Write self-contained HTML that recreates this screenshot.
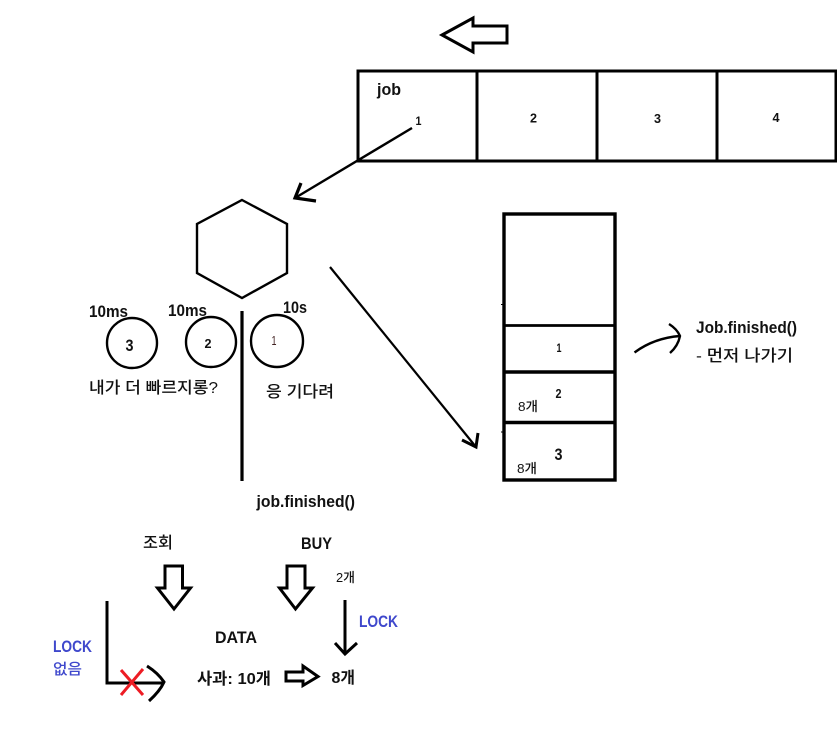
<!DOCTYPE html>
<html><head><meta charset="utf-8">
<style>
html,body{margin:0;padding:0;background:#fff}
svg{display:block}
text{font-family:"Liberation Sans","Noto Sans CJK KR",sans-serif;fill:#111}
.b{font-weight:700}
.k{font-family:"Liberation Sans","Noto Sans CJK KR",sans-serif;font-weight:500}
.l{fill:#3f48cc;font-weight:700}
</style></head><body>
<svg width="837" height="739" viewBox="0 0 837 739" xmlns="http://www.w3.org/2000/svg">
<g fill="none" stroke="#000" stroke-linejoin="miter">
<polygon points="442,35 473,18 473,26 507,26 507,43 473,43 473,52" stroke-width="3"/>
<rect x="358" y="71" width="478" height="90" stroke-width="3"/>
<path d="M477 71V161M597 71V161M717 71V161" stroke-width="3"/>
<path d="M412 128L295 198" stroke-width="2.400"/>
<path d="M301 183L295 198L316 201" stroke-width="3.200"/>
<polygon points="242,200 287,224 287,273 242,298 197,273 197,224" stroke-width="2.400"/>
<path d="M242 311V481" stroke-width="3.200"/>
<circle cx="132" cy="343" r="25" stroke-width="2.400"/>
<circle cx="211" cy="342" r="25" stroke-width="2.400"/>
<circle cx="277" cy="341" r="26" stroke-width="2.400"/>
<path d="M330 267L476 447" stroke-width="2.200"/>
<path d="M462 440L476 447L478 433" stroke-width="3"/>
<rect x="504" y="214" width="111" height="266" stroke-width="3.400"/>
<path d="M504 325.500H615" stroke-width="2.800"/>
<path d="M504 372H615M504 422.500H615" stroke-width="3.400"/>
<path d="M501 304.500H503M501 432H503" stroke-width="1"/>
<path d="M634.500 352.500Q654 338 680 336" stroke-width="2.400"/>
<path d="M669 324Q677 329 680 336Q678 346 670 353" stroke-width="2.400"/>
<polygon points="165,566 182.500,566 182.500,588 190.500,588 174,609 157.500,588 165,588" stroke-width="3"/>
<polygon points="287,566 305,566 305,588 312.500,588 295.500,609 279.500,588 287,588" stroke-width="3"/>
<path d="M345 600V654" stroke-width="3"/>
<path d="M335 643L345 654L357 643" stroke-width="3"/>
<polygon points="286,672 303,672 303,666 318,676.500 303,685.500 303,681 286,681" stroke-width="3"/>
<path d="M107 601V683H164" stroke-width="3"/>
<path d="M147 666Q158 673 164 682Q160 691 149 701" stroke-width="3"/>
<path d="M121 670L143 695M143 669L121 695" stroke="#ed1c24" stroke-width="3"/>
</g>
<text class="b" x="377" y="95" font-size="17" textLength="24" lengthAdjust="spacingAndGlyphs">job</text>
<text class="b" x="415.500" y="125" font-size="12" textLength="6" lengthAdjust="spacingAndGlyphs">1</text>
<text class="b" x="530" y="122.500" font-size="13" textLength="7" lengthAdjust="spacingAndGlyphs">2</text>
<text class="b" x="654" y="123" font-size="13" textLength="7" lengthAdjust="spacingAndGlyphs">3</text>
<text class="b" x="772.500" y="122" font-size="13" textLength="7" lengthAdjust="spacingAndGlyphs">4</text>
<text class="b" x="89" y="317" font-size="17" textLength="39" lengthAdjust="spacingAndGlyphs">10ms</text>
<text class="b" x="168" y="316" font-size="17" textLength="39" lengthAdjust="spacingAndGlyphs">10ms</text>
<text class="b" x="283" y="313" font-size="17" textLength="24" lengthAdjust="spacingAndGlyphs">10s</text>
<text class="b" x="125.500" y="351" font-size="17" textLength="8" lengthAdjust="spacingAndGlyphs">3</text>
<text class="b" x="204.500" y="348" font-size="13" textLength="7" lengthAdjust="spacingAndGlyphs">2</text>
<text x="271.500" y="345" font-size="13" textLength="5" lengthAdjust="spacingAndGlyphs" style="fill:#402020">1</text>
<text class="k" x="89" y="393" font-size="16" textLength="129" lengthAdjust="spacingAndGlyphs">내가 더 빠르지롱?</text>
<text class="k" x="266" y="397" font-size="16" textLength="68" lengthAdjust="spacingAndGlyphs">응 기다려</text>
<text class="b" x="556.500" y="352" font-size="12" textLength="5" lengthAdjust="spacingAndGlyphs">1</text>
<text class="b" x="555.500" y="398" font-size="13" textLength="6" lengthAdjust="spacingAndGlyphs">2</text>
<text class="k" x="518" y="411" font-size="13" textLength="20" lengthAdjust="spacingAndGlyphs">8개</text>
<text class="b" x="554.500" y="460" font-size="17" textLength="8" lengthAdjust="spacingAndGlyphs">3</text>
<text class="k" x="517" y="473" font-size="13" textLength="20" lengthAdjust="spacingAndGlyphs">8개</text>
<text class="b" x="696" y="333" font-size="17" textLength="101" lengthAdjust="spacingAndGlyphs">Job.finished()</text>
<text class="k" x="696" y="361" font-size="16" textLength="97" lengthAdjust="spacingAndGlyphs">- 먼저 나가기</text>
<text class="b" x="256.500" y="507" font-size="17" textLength="98.500" lengthAdjust="spacingAndGlyphs">job.finished()</text>
<text class="k" x="143" y="548" font-size="16" textLength="30" lengthAdjust="spacingAndGlyphs">조회</text>
<text class="b" x="301" y="549" font-size="17" textLength="31" lengthAdjust="spacingAndGlyphs">BUY</text>
<text class="k" x="336" y="582" font-size="13" textLength="19" lengthAdjust="spacingAndGlyphs">2개</text>
<text class="l" x="359" y="627" font-size="17" textLength="39" lengthAdjust="spacingAndGlyphs">LOCK</text>
<text class="l" x="53" y="652" font-size="17" textLength="39" lengthAdjust="spacingAndGlyphs">LOCK</text>
<text class="k" x="53" y="674" font-size="15" textLength="29" lengthAdjust="spacingAndGlyphs" style="fill:#3f48cc">없음</text>
<text class="b" x="215" y="643" font-size="17" textLength="42" lengthAdjust="spacingAndGlyphs">DATA</text>
<text class="b" x="197" y="684" font-size="16" textLength="74" lengthAdjust="spacingAndGlyphs">사과: 10개</text>
<text class="b" x="331.500" y="683" font-size="16" textLength="23.500" lengthAdjust="spacingAndGlyphs">8개</text>
</svg>
</body></html>
